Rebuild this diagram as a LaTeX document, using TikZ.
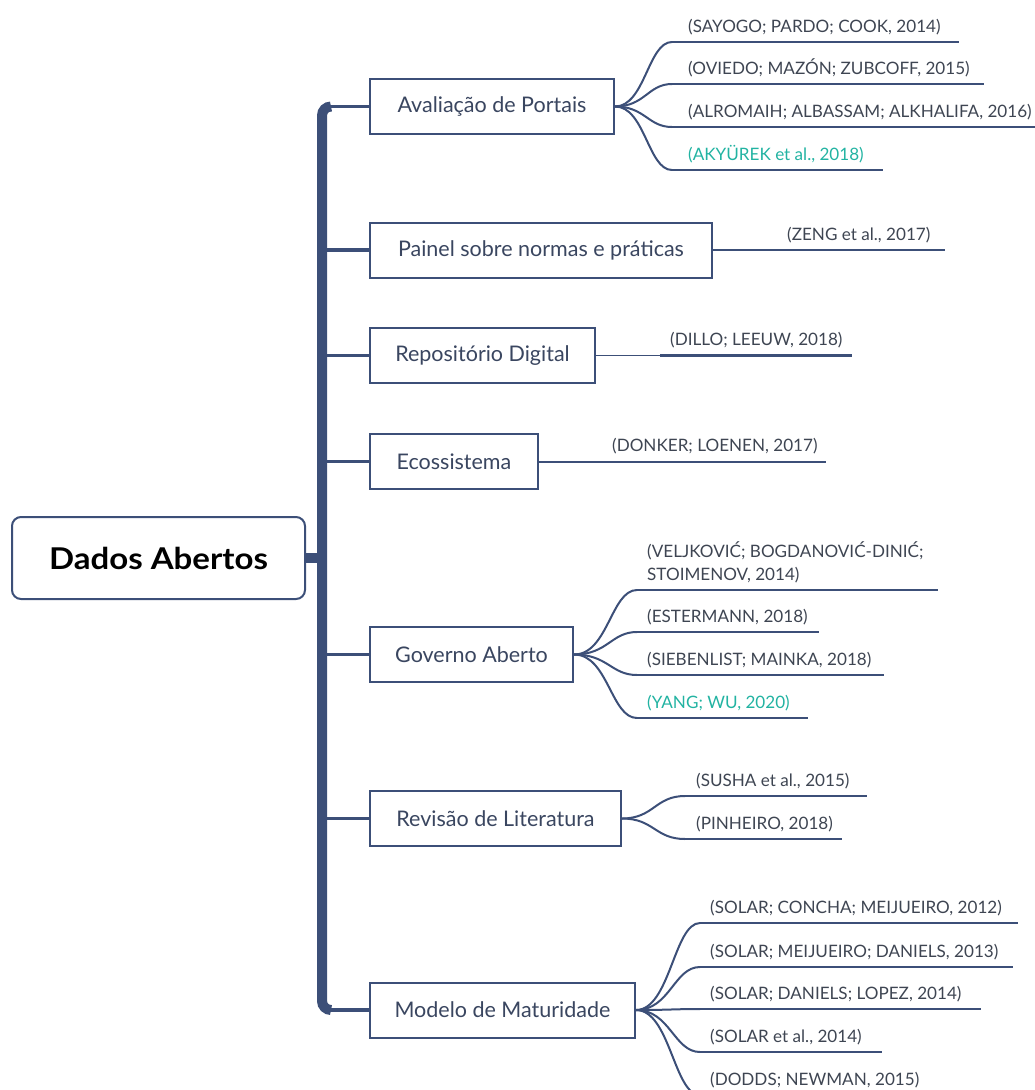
\documentclass[tikz,border=0pt]{standalone}
\usepackage{fontspec}
\setmainfont{Lato}
\newfontfamily\rootfont[FakeStretch=1.1]{Lato}
\definecolor{navy}{HTML}{3C4F78}
\definecolor{boxtext}{HTML}{3A4660}
\definecolor{leaftext}{HTML}{3E4552}
\definecolor{teal}{HTML}{22B3A2}
\begin{document}
\begin{tikzpicture}[x=1pt,y=-1pt,
  rootbox/.style={draw=navy, line width=2pt, rounded corners=9pt, fill=white,
    minimum width=293pt, minimum height=82pt, inner sep=0pt,
    font=\rootfont\fontsize{30}{34}\selectfont\bfseries, text=black},
  topicbox/.style={draw=navy, line width=2pt, fill=white, anchor=west,
    minimum height=55pt, inner sep=0pt,
    font=\fontsize{21.5}{26}\selectfont, text=boxtext},
  leaf/.style={anchor=base west, inner sep=0pt, align=left,
    font=\fontsize{17.1}{23}\selectfont, text=leaftext},
  hot/.style={text=teal},
  trunkline/.style={draw=navy, line width=10pt},
  branchline/.style={draw=navy, line width=3.5pt},
  fanline/.style={draw=navy, line width=2pt},
  underline/.style={draw=navy, line width=2.5pt}]
\useasboundingbox (0,0) rectangle (1035,1090);
\clip (0,0) rectangle (1035,1090);

% central topic
\node[rootbox] (root) at (158.5,558) {Dados Abertos};

% topics
\node[topicbox, minimum width=244pt] (avp) at (369,106.5) {Avaliação de Portais};
\node[topicbox, minimum width=342pt] (pan) at (369,250) {Painel sobre normas e práticas};
\node[topicbox, minimum width=225pt] (rep) at (369,355.5) {Repositório Digital};
\node[topicbox, minimum width=168pt] (eco) at (369,461.5) {Ecossistema};
\node[topicbox, minimum width=203pt] (gov) at (369,654.5) {Governo Aberto};
\node[topicbox, minimum width=251pt] (rev) at (369,818.5) {Revisão de Literatura};
\node[topicbox, minimum width=265pt] (mod) at (369,1010) {Modelo de Maturidade};

% trunk
\coordinate (hub) at (322,558);
\coordinate (t1) at (322,106.5);
\coordinate (t2) at (322,250);
\coordinate (t3) at (322,355.5);
\coordinate (t4) at (322,461.5);
\coordinate (t5) at (322,654.5);
\coordinate (t6) at (322,818.5);
\coordinate (t7) at (322,1010);
\draw[trunkline] (root.east) -- (hub);
\draw[trunkline, rounded corners=9pt] ([xshift=9pt]t1) -- (t1) -- (t7) -- ([xshift=9pt]t7);
\foreach \t/\b in {t1/avp,t2/pan,t3/rep,t4/eco,t5/gov,t6/rev,t7/mod}
  \draw[branchline] (\t) -- (\b.west);

% Avaliação de Portais
\foreach \n/\y/\e in {1/42/959,2/84/984,3/127/1040,4/170/883}{
  \coordinate (a\n s) at (672,\y);
  \coordinate (a\n e) at (\e,\y);
  \draw[fanline] (avp.east) .. controls +(30,0) and +(-24,0) .. (a\n s);
  \draw[underline] (a\n s) -- (a\n e);
}
\node[leaf] (a1) at (688,32) {(SAYOGO; PARDO; COOK, 2014)};
\node[leaf] (a2) at (688,74) {(OVIEDO; MAZÓN; ZUBCOFF, 2015)};
\node[leaf] (a3) at (688,117) {(ALROMAIH; ALBASSAM; ALKHALIFA, 2016)};
\node[leaf, hot] (a4) at (688,160) {(AKYÜREK et al., 2018)};

% Painel sobre normas e práticas
\coordinate (p1s) at (770,250);
\coordinate (p1e) at (945,250);
\draw[fanline] (pan.east) -- (p1s);
\draw[fanline] (p1s) -- (p1e);
\node[leaf] (p1) at (787,240) {(ZENG et al., 2017)};

% Repositório Digital
\coordinate (r1s) at (660,355.5);
\coordinate (r1e) at (852,355.5);
\draw[draw=navy, line width=1.4pt] (rep.east) -- (r1s);
\draw[underline] (r1s) -- (r1e);
\node[leaf] (r1) at (670,345.5) {(DILLO; LEEUW, 2018)};

% Ecossistema
\coordinate (e1s) at (600,461.5);
\coordinate (e1e) at (826,461.5);
\draw[fanline] (eco.east) -- (e1s);
\draw[fanline] (e1s) -- (e1e);
\node[leaf] (e1) at (612,451.5) {(DONKER; LOENEN, 2017)};

% Governo Aberto
\foreach \n/\y/\e in {1/590/938,2/632/819,3/675/884,4/718/808}{
  \coordinate (g\n s) at (637,\y);
  \coordinate (g\n e) at (\e,\y);
  \draw[fanline] (gov.east) .. controls +(34,0) and +(-26,0) .. (g\n s);
  \draw[underline] (g\n s) -- (g\n e);
}
% the base anchor of a two-line node sits on its last line
\node[leaf] (g1) at (647,580) {(VELJKOVIĆ; BOGDANOVIĆ-DINIĆ;\\STOIMENOV, 2014)};
\node[leaf] (g2) at (647,622) {(ESTERMANN, 2018)};
\node[leaf] (g3) at (647,665) {(SIEBENLIST; MAINKA, 2018)};
\node[leaf, hot] (g4) at (647,708) {(YANG; WU, 2020)};

% Revisão de Literatura
\foreach \n/\y/\e in {1/796/867,2/839/842}{
  \coordinate (v\n s) at (685,\y);
  \coordinate (v\n e) at (\e,\y);
  \draw[fanline] (rev.east) .. controls +(32,0) and +(-30,0) .. (v\n s);
  \draw[underline] (v\n s) -- (v\n e);
}
\node[leaf] (v1) at (696,786) {(SUSHA et al., 2015)};
\node[leaf] (v2) at (696,829) {(PINHEIRO, 2018)};

% Modelo de Maturidade
\foreach \n/\y/\e in {1/923/1018,2/967/1013,3/1009/981,4/1052/882,5/1095/930}{
  \coordinate (m\n s) at (700,\y);
  \coordinate (m\n e) at (\e,\y);
  \draw[fanline] (mod.east) .. controls +(34,0) and +(-26,0) .. (m\n s);
  \draw[underline] (m\n s) -- (m\n e);
}
\node[leaf] (m1) at (710,913) {(SOLAR; CONCHA; MEIJUEIRO, 2012)};
\node[leaf] (m2) at (710,957) {(SOLAR; MEIJUEIRO; DANIELS, 2013)};
\node[leaf] (m3) at (710,999) {(SOLAR; DANIELS; LOPEZ, 2014)};
\node[leaf] (m4) at (710,1042) {(SOLAR et al., 2014)};
\node[leaf] (m5) at (710,1085) {(DODDS; NEWMAN, 2015)};
\end{tikzpicture}
\end{document}
